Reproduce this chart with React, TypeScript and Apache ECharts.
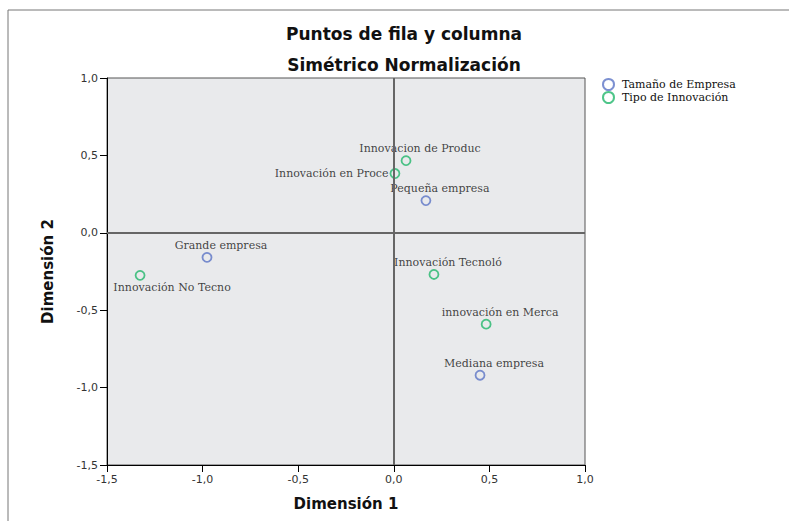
import React, { useEffect, useRef } from "react";
import * as echarts from "echarts";

const empresaNames = ["Pequeña empresa", "Grande empresa", "Mediana empresa"];
const empresaX = [0.168, -0.977, 0.451];
const empresaY = [0.208, -0.159, -0.92];

const innovNames = [
  "Innovacion de Produc",
  "Innovación en Proce",
  "Innovación No Tecno",
  "Innovación Tecnoló",
  "innovación en Merca",
];
const innovX = [0.064, 0.006, -1.327, 0.21, 0.483];
const innovY = [0.466, 0.383, -0.275, -0.269, -0.59];

const BLUE = "#5b74c6";
const GREEN = "#22b76c";
const SERIF = "DejaVu Serif";
const SANS = "DejaVu Sans";

const fmt = (v: number) => v.toFixed(1).replace(".", ",");

function labelFor(name: string) {
  const base: any = {
    show: true,
    formatter: name,
    fontFamily: SERIF,
    fontSize: 11,
    color: "#111",
  };
  if (name === "Innovación en Proce") {
    return { ...base, position: "left", distance: 1, offset: [0, 0] };
  }
  if (name === "Innovación No Tecno") {
    return { ...base, position: "bottom", distance: 1, offset: [32, 0] };
  }
  return { ...base, position: "top", distance: 1, offset: [14, 0] };
}

export default function App() {
  const ref = useRef<HTMLDivElement>(null);
  useEffect(() => {
    if (!ref.current) return;
    const chart = echarts.init(ref.current, undefined, { renderer: "svg" });
    const empresaData = empresaNames.map((n, i) => ({
      value: [empresaX[i], empresaY[i]],
      label: labelFor(n),
    }));
    const innovData = innovNames.map((n, i) => ({
      value: [innovX[i], innovY[i]],
      label: labelFor(n),
    }));
    const axisLabel = {
      formatter: (v: number) => fmt(v),
      fontFamily: SANS,
      fontSize: 11,
      color: "#333",
    };
    chart.setOption({
      animation: false,
      backgroundColor: "#ffffff",
      title: [
        {
          text: "Puntos de fila y columna",
          left: 399,
          textAlign: "center",
          top: 20,
          textStyle: { fontFamily: SANS, fontSize: 17, fontWeight: "bold", color: "#111" },
        },
        {
          text: "Simétrico Normalización",
          left: 399,
          textAlign: "center",
          top: 51,
          textStyle: { fontFamily: SANS, fontSize: 17, fontWeight: "bold", color: "#111" },
        },
      ],
      legend: {
        orient: "vertical",
        left: 597,
        top: 73,
        itemWidth: 11,
        itemHeight: 11,
        itemGap: 0,
        textStyle: { fontFamily: SERIF, fontSize: 11, color: "#111", lineHeight: 12, padding: [0, 0, 0, 3] },
        data: ["Tamaño de Empresa", "Tipo de Innovación"],
      },
      graphic: [
        {
          type: "rect",
          shape: { x: 8, y: 10, width: 900, height: 700 },
          style: { fill: "none", stroke: "#777", lineWidth: 1 },
          silent: true,
          z: -1,
        },
      ],
      grid: {
        left: 107,
        top: 78,
        right: 204,
        bottom: 56,
        show: true,
        backgroundColor: "#e9eaec",
        borderColor: "#555",
        borderWidth: 1,
      },
      xAxis: {
        type: "value",
        min: -1.5,
        max: 1.0,
        interval: 0.5,
        name: "Dimensión 1",
        nameLocation: "middle",
        nameGap: 31,
        nameTextStyle: { fontFamily: SANS, fontSize: 15, fontWeight: "bold", color: "#111" },
        axisLine: { show: true, onZero: false, lineStyle: { color: "#000", width: 1 } },
        axisTick: { show: true, length: 7, lineStyle: { color: "#000" } },
        axisLabel: { ...axisLabel, margin: 9 },
        splitLine: { show: false },
      },
      yAxis: {
        type: "value",
        min: -1.5,
        max: 1.0,
        interval: 0.5,
        name: "Dimensión 2",
        nameLocation: "middle",
        nameGap: 52,
        nameTextStyle: { fontFamily: SANS, fontSize: 15, fontWeight: "bold", color: "#111" },
        axisLine: { show: true, onZero: false, lineStyle: { color: "#000", width: 1 } },
        axisTick: { show: true, length: 7, lineStyle: { color: "#000" } },
        axisLabel: { ...axisLabel, margin: 9 },
        splitLine: { show: false },
      },
      series: [
        {
          name: "Tamaño de Empresa",
          type: "scatter",
          symbol: "circle",
          symbolSize: 9,
          itemStyle: { color: "rgba(0,0,0,0)", borderColor: BLUE, borderWidth: 1.8 },
          data: empresaData,
          z: 3,
          markLine: {
            silent: true,
            symbol: "none",
            label: { show: false },
            lineStyle: { color: "#666", width: 2, type: "solid" },
            data: [{ xAxis: 0 }, { yAxis: 0 }],
          },
        },
        {
          name: "Tipo de Innovación",
          type: "scatter",
          symbol: "circle",
          symbolSize: 9,
          itemStyle: { color: "rgba(0,0,0,0)", borderColor: GREEN, borderWidth: 1.8 },
          data: innovData,
          z: 3,
        },
      ],
    });
    return () => chart.dispose();
  }, []);
  return <div ref={ref} style={{ width: 789, height: 521, position: "absolute", left: 0, top: 0 }} />;
}
